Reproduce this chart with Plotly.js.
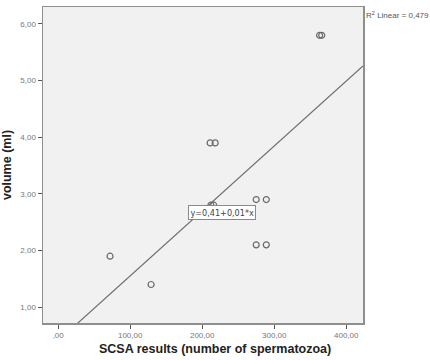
<!DOCTYPE html>
<html>
<head>
<meta charset="utf-8">
<script src="https://cdn.plot.ly/plotly-3.0.1.min.js"></script>
<style>
  html, body { margin: 0; padding: 0; background: #ffffff; }
  #chart { width: 430px; height: 360px; }
</style>
</head>
<body>
<div id="chart"></div>
<script>
// SCSA results vs. semen volume
const scsa = [72, 129, 211, 218, 212, 216, 275, 289, 275, 289, 363, 366];
const volume = [1.9, 1.4, 3.9, 3.9, 2.8, 2.8, 2.9, 2.9, 2.1, 2.1, 5.8, 5.8];

const xTickVals = [0, 100, 200, 300, 400];
const xTickText = [",00", "100,00", "200,00", "300,00", "400,00"];
const yTickVals = [1, 2, 3, 4, 5, 6];
const yTickText = ["1,00", "2,00", "3,00", "4,00", "5,00", "6,00"];

const xRange = [-21.1, 423.3];
const yRange = [0.72, 6.3];

// least-squares fit line
const n = scsa.length;
const mx = scsa.reduce((a, b) => a + b, 0) / n;
const my = volume.reduce((a, b) => a + b, 0) / n;
let sxy = 0, sxx = 0, syy = 0;
for (let i = 0; i < n; i++) {
  sxy += (scsa[i] - mx) * (volume[i] - my);
  sxx += (scsa[i] - mx) ** 2;
  syy += (volume[i] - my) ** 2;
}
const slope = sxy / sxx;
const intercept = my - slope * mx;
const r2 = (sxy * sxy) / (sxx * syy);
const fmt = (v, d) => v.toFixed(d).replace('.', ',');

const fitX = [xRange[0], xRange[1]];
const fitY = fitX.map(x => intercept + slope * x);

const traces = [
  {
    x: fitX, y: fitY, type: 'scatter', mode: 'lines',
    line: { color: '#6e6e6e', width: 1.2 },
    hoverinfo: 'skip', cliponaxis: true
  },
  {
    x: scsa, y: volume, type: 'scatter', mode: 'markers',
    marker: { symbol: 'circle-open', size: 6, color: '#6a6a6a', line: { width: 1.2 } }
  }
];

const axisCommon = {
  showgrid: false, zeroline: false,
  showline: true, linecolor: '#8f8f8f', linewidth: 1.5, mirror: true,
  ticks: 'outside', ticklen: 4, tickcolor: '#555', tickwidth: 1,
  tickfont: { family: 'Liberation Sans, Arial, sans-serif', size: 8, color: '#777' }
};

const titleFont = { family: 'Liberation Sans, Arial, sans-serif', size: 12.5, color: '#222', weight: 'bold' };

const layout = {
  width: 430, height: 360,
  margin: { l: 43, r: 67, t: 7, b: 37 },
  paper_bgcolor: '#ffffff',
  plot_bgcolor: '#f1f1f1',
  showlegend: false,
  xaxis: Object.assign({}, axisCommon, {
    range: xRange, tickvals: xTickVals, ticktext: xTickText
  }),
  yaxis: Object.assign({}, axisCommon, {
    range: yRange, tickvals: yTickVals, ticktext: yTickText,
    title: { text: 'volume (ml)', standoff: 8, font: titleFont }
  }),
  annotations: [
    {
      x: 0.5375, y: -0.0823, xref: 'paper', yref: 'paper',
      xanchor: 'center', yanchor: 'middle', showarrow: false,
      text: '<b>SCSA results (number of spermatozoa)</b>',
      font: titleFont
    },
    {
      x: 226.8, y: 2.68, xref: 'x', yref: 'y', showarrow: false,
      text: 'y=' + fmt(intercept, 2) + '+' + fmt(slope, 2) + '*x',
      font: { family: 'DejaVu Sans Condensed, DejaVu Sans, sans-serif', size: 9, color: '#444' },
      bgcolor: '#ffffff', bordercolor: '#8a8a8a', borderwidth: 1, borderpad: 1.5
    },
    {
      x: 1, y: 0.974, xref: 'paper', yref: 'paper', xanchor: 'left', yanchor: 'middle',
      showarrow: false, xshift: 1,
      text: 'R<sup>2</sup> Linear = ' + fmt(r2, 3),
      font: { family: 'Liberation Sans, Arial, sans-serif', size: 8, color: '#555' }
    }
  ]
};

Plotly.newPlot('chart', traces, layout, { displayModeBar: false, staticPlot: true });
</script>
</body>
</html>
